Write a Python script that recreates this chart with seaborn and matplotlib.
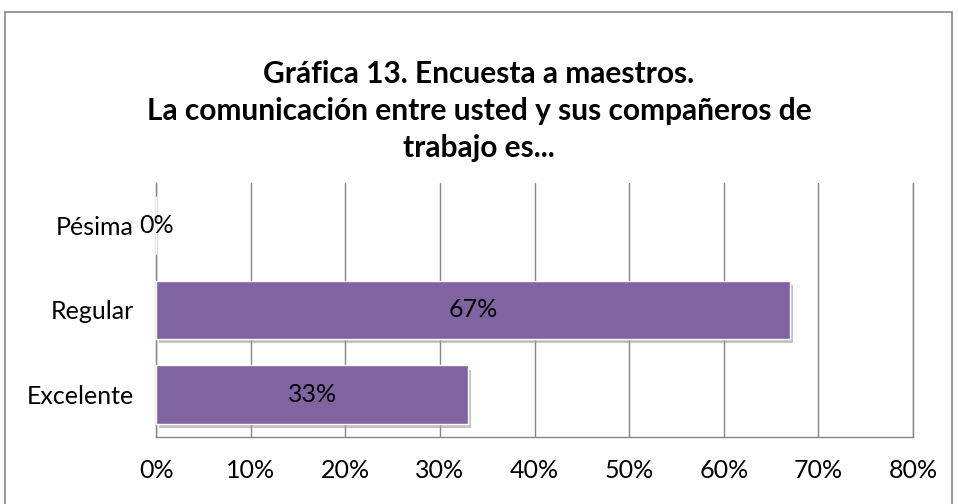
import matplotlib
matplotlib.use("Agg")
import matplotlib.pyplot as plt
import matplotlib.patheffects as pe
from matplotlib.patches import Rectangle
import seaborn as sns
import pandas as pd

categories = ["Pésima", "Regular", "Excelente"]
values = [0, 67, 33]
x_ticks = [0, 10, 20, 30, 40, 50, 60, 70, 80]
title = "Gráfica 13. Encuesta a maestros.\nLa comunicación entre usted y sus compañeros de\ntrabajo es..."

bar_color = "#8064A2"
grid_color = "#868686"

sns.set_theme(style="white")
plt.rcParams["font.family"] = ["Lato", "DejaVu Sans"]
plt.rcParams["text.color"] = "black"
plt.rcParams["xtick.color"] = "black"
plt.rcParams["ytick.color"] = "black"

df = pd.DataFrame({"categoria": categories, "valor": values})

fig = plt.figure(figsize=(9.58, 5.04), dpi=100)
ax = fig.add_axes([0.163, 0.133, 0.790, 0.504])

sns.barplot(data=df, x="valor", y="categoria", orient="h", color=bar_color,
            saturation=1, width=0.69, ax=ax, zorder=3)

# soft shadow under the bars, like the Office style
for patch in ax.patches:
    patch.set_path_effects([pe.SimplePatchShadow(offset=(2, -3), shadow_rgbFace="#9a9a9a", alpha=0.6),
                            pe.Normal()])

for i, v in enumerate(values):
    ax.text(v / 2, i, f"{v}%", ha="center", va="center", fontsize=18, color="black", zorder=5)

ax.set_xlim(0, 80)
ax.set_ylim(2.5, -0.5)
ax.set_xticks(x_ticks)
ax.set_xticklabels([f"{t}%" for t in x_ticks], fontsize=18)
ax.tick_params(axis="x", length=0, pad=16)
ax.tick_params(axis="y", length=0, pad=16, labelsize=18)
ax.set_xlabel("")
ax.set_ylabel("")
ax.xaxis.grid(True, color=grid_color, linewidth=1)
ax.set_axisbelow(True)
ax.spines["top"].set_visible(False)
for side in ["left", "bottom", "right"]:
    ax.spines[side].set_color(grid_color)
    ax.spines[side].set_linewidth(1)

fig.text(0.5, 0.78, title, ha="center", va="center", fontsize=21.5, fontweight="bold",
         linespacing=1.4, color="black")

fig.patches.append(Rectangle((0.005, -0.02), 0.989, 0.996, transform=fig.transFigure,
                             fill=False, edgecolor="#868686", linewidth=1.2))

fig.savefig("out.png", dpi=100)
